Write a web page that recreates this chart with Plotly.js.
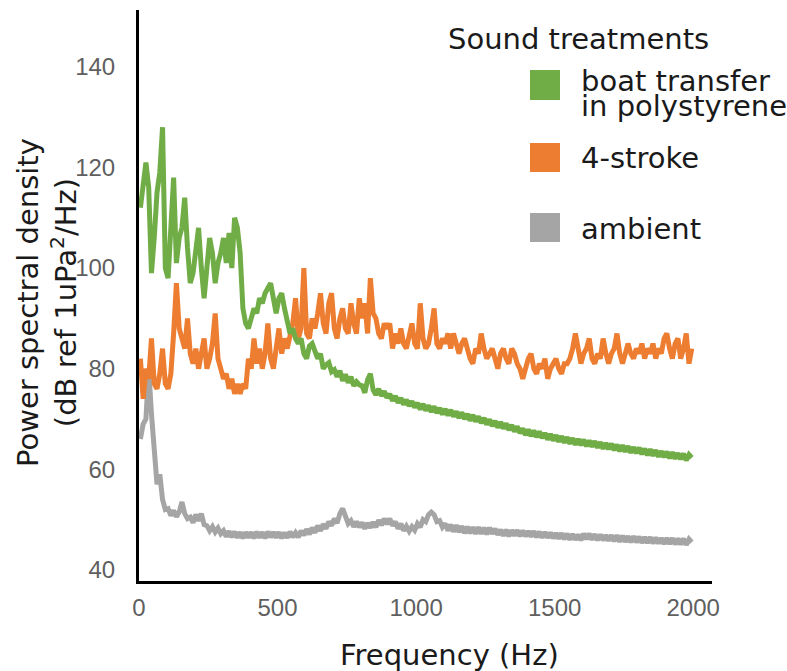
<!DOCTYPE html>
<html>
<head>
<meta charset="utf-8">
<script src="https://cdn.plot.ly/plotly-3.0.1.min.js"></script>
<style>
  html, body { margin: 0; padding: 0; background: #ffffff; }
  #chart { width: 787px; height: 671px; }
</style>
</head>
<body>
<div id="chart"></div>
<script>
// Frequency grid of the spectra (Hz): first bin and bin spacing
const FREQ_START = 5;
const FREQ_STEP = 10;

// Power spectral density (dB ref 1uPa^2/Hz), 10 Hz bins
const boatPolystyrene = [
  112,117,121,116,99,106,115,119,128,100,
  98,108,118,101,106,108,114,104,97,99,
  103,108,100,94,100,106,103,97,101,103,
  106,101,107,100,110,108,103,92,89,88,
  90,92,91,94,93,95,96,97,94,91,
  94,95,92,89,87,88,86,85,86,83,
  82,84.5,85,83.5,82,83,80,80.8,81.2,79.4,
  79.8,78.4,79.6,77.6,78.9,77.2,78.4,76.6,77.4,76.8,
  76.6,75.2,77.8,79,75.8,74.8,76,74.6,75.5,74.2,
  75,73.6,74.6,73.2,74.2,72.9,73.8,72.6,73.5,72.3,
  73.2,71.9,73,71.7,72.7,71.4,72.5,71.2,72.2,70.9,
  72,70.7,71.8,70.5,71.5,70.2,71.3,70,71,69.7,
  70.8,69.5,70.5,69.2,70.2,68.9,69.9,68.6,69.6,68.3,
  69.4,68.1,69.1,67.8,68.8,67.5,68.5,67.2,68.1,66.8,
  67.9,66.6,67.7,66.4,67.5,66.2,67.2,65.9,67,65.7,
  66.8,65.5,66.6,65.3,66.4,65.1,66.2,64.9,66,64.8,
  65.9,64.6,65.7,64.5,65.6,64.3,65.4,64.1,65.2,64,
  65.1,63.8,64.9,63.6,64.8,63.5,64.6,63.3,64.4,63.2,
  64.3,63,64.1,62.8,64,62.7,63.8,62.5,63.6,62.4,
  63.5,62.2,63.4,62.1,63.2,62,63.1,61.8,62.9,62.3
];

const fourStroke = [
  82,74,80,78,86,77,76,79,84,77,
  76,79,87,97,88,86,84,90,83,81,
  84,80,83,86,80,82,85,91,82,80,
  78,79,76,78,75,77,75,77,76,82,
  80,86,81,84,80,83,89,82,80,84,
  88,83,86,84,87,89,94,86,88,100,
  87,86,90,88,91,95,89,87,93,95,
  88,86,90,92,88,87,93,89,87,94,
  90,93,87,98,91,90,87,86,89,88,
  89,84,87,85,88,85,84,87,89,85,
  84,93,86,84,85,88,92,85,84,86,
  85,87,84,87,85,83,85,86,84,82,
  81,84,83,87,84,82,83,84,82,80,
  83,84,82,81,84,83,81,80,78,80,
  82,83,80,79,81,80,82,78,80,81,
  82,80,79,81,81,82,84,87,84,81,
  83,84,86,82,81,83,82,86,83,81,
  83,84,87,83,81,83,85,83,82,84,
  83,85,82,84,83,85,82,84,83,86,
  87,84,82,85,86,82,84,87,81,84
];

const ambient = [
  66,69,70,80,71,62,57,59,54,52,
  52.2,50.8,51.8,50.6,51.5,53.5,51.2,50.2,50.5,49.4,
  51,49.8,51.2,49,48.8,47.8,48.6,47.5,48.3,47.2,
  47.8,46.6,47.7,46.5,47.6,46.4,47.5,46.3,47.5,46.4,
  47.5,46.3,47.6,46.4,47.5,46.3,47.6,46.5,47.5,46.4,
  47.5,46.3,47.4,46.4,47.6,46.5,47.4,46.5,47.8,46.9,
  48.1,47.1,48.4,47.4,48.8,47.8,49.1,48.2,49.6,48.8,
  50.2,49.3,51.2,52.2,50.6,49.2,49.8,48.6,49.6,48.5,
  49.4,48.2,49.3,48.4,49.5,48.5,49.9,48.9,50.2,49.1,
  50.2,48.8,49.6,48.2,49.2,47.8,48.7,47.7,48.6,47.9,
  49.2,48.5,50,49.6,51,51.5,51,49.6,49.8,48.5,
  49.2,47.8,49,47.6,48.9,47.5,48.7,47.3,48.6,47.3,
  48.5,47.2,48.5,47.2,48.4,47.1,48.4,47.2,48.2,47,
  48,46.8,48,46.7,47.9,46.8,47.9,46.7,47.8,46.7,
  47.7,46.6,47.7,46.5,47.6,46.4,47.5,46.4,47.4,46.3,
  47.3,46.2,47.3,46.1,47.2,46,47.1,46,47,45.9,
  47.2,46.1,47.2,46,47.1,45.9,47,45.9,46.9,45.8,
  46.9,45.7,46.9,45.6,46.8,45.6,46.7,45.5,46.7,45.5,
  46.6,45.4,46.5,45.4,46.5,45.3,46.4,45.3,46.3,45.2,
  46.3,45.2,46.3,45.1,46.2,45.1,46.2,45,46.1,45.5
];

const seriesNames = ['boat transfer in polystyrene', '4-stroke', 'ambient'];
const seriesColors = ['#70AD47', '#ED7D31', '#A5A5A5'];
const xTickValues = [0, 500, 1000, 1500, 2000];
const yTickValues = [40, 60, 80, 100, 120, 140];

function freqFor(arr) { return arr.map((_, i) => FREQ_START + i * FREQ_STEP); }

const traces = [
  { x: freqFor(ambient), y: ambient, name: seriesNames[2], color: seriesColors[2] },
  { x: freqFor(fourStroke), y: fourStroke, name: seriesNames[1], color: seriesColors[1] },
  { x: freqFor(boatPolystyrene), y: boatPolystyrene, name: seriesNames[0], color: seriesColors[0] }
].map(s => ({
  type: 'scatter', mode: 'lines', x: s.x, y: s.y, name: s.name,
  line: { color: s.color, width: 5, shape: 'linear' }, showlegend: false, hoverinfo: 'x+y+name'
}));

// plot area in pixels: left 139, right 712, top 10, bottom 581
const PL = 139, PR = 712, PT = 10, PB = 581;
const px = v => (v - PL) / (PR - PL);
const py = v => (PB - v) / (PB - PT);

const textFont = { family: 'DejaVu Sans, Verdana, sans-serif', size: 29, color: '#1a1a1a' };
const tickFont = { family: 'Liberation Sans, Arial, sans-serif', size: 24, color: '#5f5f5f' };

const legendRows = [
  { y0: 70, y1: 100, color: seriesColors[0], lines: [['boat transfer', 81], ['in polystyrene', 106]] },
  { y0: 143, y1: 172, color: seriesColors[1], lines: [['4-stroke', 158]] },
  { y0: 213, y1: 242, color: seriesColors[2], lines: [['ambient', 229]] }
];

const shapes = legendRows.map(r => ({
  type: 'rect', xref: 'paper', yref: 'paper',
  x0: px(530), x1: px(560), y0: py(r.y1), y1: py(r.y0),
  fillcolor: r.color, line: { width: 0 }
}));

const annotations = [
  { text: 'Sound treatments', x: px(446), y: py(39), xanchor: 'left', yanchor: 'middle' }
];
legendRows.forEach(r => r.lines.forEach(([t, yy]) => {
  annotations.push({ text: t, x: px(579), y: py(yy), xanchor: 'left', yanchor: 'middle' });
}));
annotations.push({ text: 'Frequency (Hz)', x: px(449), y: py(655), xanchor: 'center', yanchor: 'middle' });
annotations.push({ text: 'Power spectral density<br>(dB ref 1uPa<sup>2</sup>/Hz)', x: px(47), y: py(303),
  xanchor: 'center', yanchor: 'middle', textangle: -90 });
annotations.forEach(a => { a.xref = 'paper'; a.yref = 'paper'; a.showarrow = false; a.font = textFont; });

const layout = {
  width: 787, height: 671,
  margin: { l: PL, r: 787 - PR, t: PT, b: 671 - PB, pad: 0 },
  paper_bgcolor: '#ffffff', plot_bgcolor: '#ffffff',
  showlegend: false,
  xaxis: {
    range: [0, 2068], tickvals: xTickValues, ticktext: xTickValues.map(String),
    showline: true, linecolor: '#000000', linewidth: 3, ticks: '',
    showgrid: false, zeroline: false, tickfont: tickFont, ticklabelstandoff: 3
  },
  yaxis: {
    range: [37.8, 151.3], tickvals: yTickValues, ticktext: yTickValues.map(String),
    showline: true, linecolor: '#000000', linewidth: 3, ticks: '',
    showgrid: false, zeroline: false, tickfont: tickFont, ticklabelstandoff: 16
  },
  shapes: shapes,
  annotations: annotations
};

Plotly.newPlot('chart', traces, layout, { displayModeBar: false, staticPlot: true });
</script>
</body>
</html>
